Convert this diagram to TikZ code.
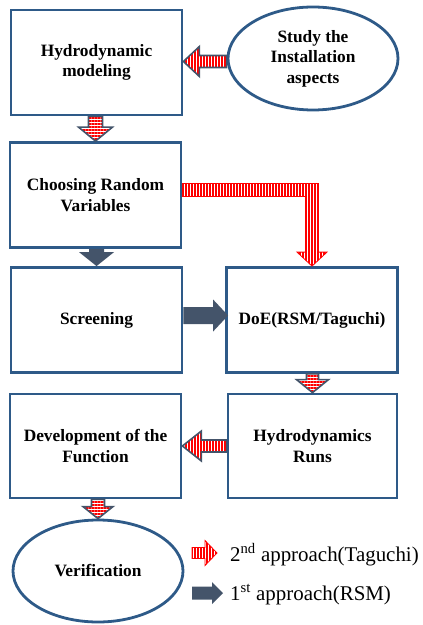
\documentclass[tikz,border=0pt]{standalone}
\usepackage{fontspec}
\setmainfont{Liberation Serif}
\usetikzlibrary{shapes.geometric,patterns.meta,calc}
\definecolor{boxblue}{HTML}{2E5A88}
\definecolor{slate}{HTML}{44546A}
\newcommand\ArrDown[6]{%
  \path[#6] let \p1=(#1), \p2=(#2) in
    (\x2-#3bp,\y1) -- (\x2-#3bp,\y2+#5bp) -- (\x2-#4bp,\y2+#5bp) -- (\x2,\y2)
    -- (\x2+#4bp,\y2+#5bp) -- (\x2+#3bp,\y2+#5bp) -- (\x2+#3bp,\y1) -- cycle;}
\newcommand\ArrLeft[6]{%
  \path[#6] let \p1=(#1), \p2=(#2) in
    (\x1,\y2-#3bp) -- (\x2+#5bp,\y2-#3bp) -- (\x2+#5bp,\y2-#4bp) -- (\x2,\y2)
    -- (\x2+#5bp,\y2+#4bp) -- (\x2+#5bp,\y2+#3bp) -- (\x1,\y2+#3bp) -- cycle;}
\newcommand\ArrRight[6]{%
  \path[#6] let \p1=(#1), \p2=(#2) in
    (\x1,\y2+#3bp) -- (\x2-#5bp,\y2+#3bp) -- (\x2-#5bp,\y2+#4bp) -- (\x2,\y2)
    -- (\x2-#5bp,\y2-#4bp) -- (\x2-#5bp,\y2-#3bp) -- (\x1,\y2-#3bp) -- cycle;}
\tikzset{
  box/.style={draw=boxblue, line width=2.8bp, minimum width=171bp, minimum height=105bp,
    align=center, inner sep=0pt, font=\fontsize{17.4}{20.5}\selectfont\bfseries},
  oval/.style={box, ellipse, minimum width=170bp, minimum height=103bp},
  hstripe/.style={draw=slate, line width=1.6bp,
    pattern={Lines[angle=0,distance=3bp,line width=1.3bp]}, pattern color=red},
  vstripe/.style={draw=slate, line width=1.6bp,
    pattern={Lines[angle=90,distance=3bp,line width=1.3bp]}, pattern color=red},
  redarr/.style={draw=red, line width=0.8bp,
    pattern={Lines[angle=90,distance=3bp,line width=1.3bp]}, pattern color=red},
  darkarr/.style={fill=slate},
  legend/.style={font=\fontsize{21}{25}\selectfont, anchor=base west, inner sep=0pt}
}
\begin{document}
\begin{tikzpicture}[x=1bp,y=-1bp]
\useasboundingbox (0,0) rectangle (422,625);
\node[box] (b1) at (96.5,62.5) {Hydrodynamic\\modeling};
\node[oval] (e1) at (313,58.5) {Study the\\Installation\\aspects};
\node[box] (b2) at (95.5,195) {Choosing Random\\Variables};
\node[box] (b3) at (96.5,320) {Screening};
\node[box] (b4) at (312,320) {DoE(RSM/Taguchi)};
\node[box, minimum width=169bp, minimum height=104bp] (b5) at (312.5,446) {Hydrodynamics\\Runs};
\node[box, minimum height=104bp] (b6) at (95.5,446) {Development of the\\Function};
\node[oval, minimum height=102bp] (v) at (98,571) {Verification};

\ArrLeft{e1.west}{$(b1.east)+(0,-1)$}{6}{15}{16}{vstripe}
\ArrDown{b1.south}{b2.north}{7}{17}{14}{hstripe}
\ArrDown{b2.south}{b3.north}{7.5}{17.5}{14}{darkarr}
\path[redarr] let \p1=(b2.east), \p2=(b4.north) in
  (\x1,\y1+11.5bp) -- (\x2+6.5bp,\y1+11.5bp) -- (\x2+6.5bp,\y2+14bp) -- (\x2+15bp,\y2+14bp)
  -- (\x2,\y2) -- (\x2-15bp,\y2+14bp) -- (\x2-6.5bp,\y2+14bp) -- (\x2-6.5bp,\y1-1.5bp)
  -- (\x1,\y1-1.5bp) -- cycle;
\ArrRight{b3.east}{$(b4.west)+(3,-4.5)$}{8.5}{16}{15}{darkarr}
\ArrDown{b4.south}{b5.north}{6}{16}{13}{hstripe}
\ArrLeft{b5.west}{b6.east}{6}{15}{19}{vstripe}
\ArrDown{b6.south}{v.north}{6.5}{15}{12}{hstripe}

\coordinate (l1s) at (192,553);
\coordinate (l1e) at (217,553);
\coordinate (l2s) at (192,593);
\coordinate (l2e) at (223,593);
\ArrRight{l1s}{l1e}{5.5}{12.5}{12}{redarr}
\ArrRight{l2s}{l2e}{6.5}{11}{11}{darkarr}
\node[legend] (t1) at (230,561) {2\textsuperscript{nd} approach(Taguchi)};
\node[legend] (t2) at (230,600) {1\textsuperscript{st} approach(RSM)};
\end{tikzpicture}
\end{document}
